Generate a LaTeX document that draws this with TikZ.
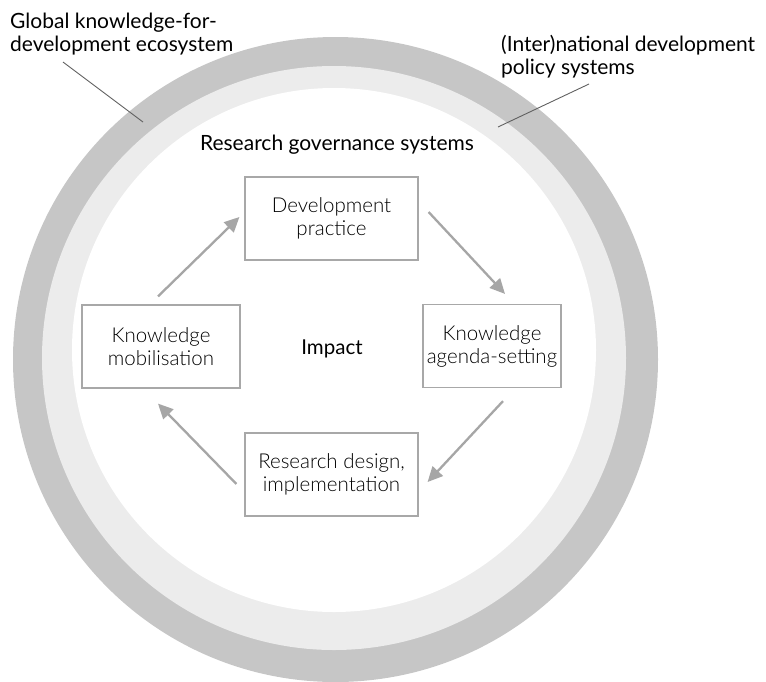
\documentclass[tikz,border=0pt]{standalone}
\usepackage{fontspec}
\setmainfont{Lato}
\newfontfamily\boxfont{Lato}[UprightFont=* Light]
\usetikzlibrary{arrows.meta,calc}
\definecolor{ringdark}{HTML}{C6C6C6}
\definecolor{ringlight}{HTML}{ECECEC}
\definecolor{arrgray}{HTML}{A6A6A6}
\definecolor{boxgray}{HTML}{A8A8A8}
\definecolor{leadergray}{HTML}{606060}
\tikzset{
  stagebox/.style={draw=boxgray, line width=1.2pt, fill=white, minimum width=#1, minimum height=83pt, inner sep=0pt, align=center, font=\boxfont\fontsize{20.5}{23}\selectfont, text=black},
  cyclearrow/.style={draw=arrgray, line width=2.3pt, -{Triangle[length=15pt,width=14pt]}},
  labeltext/.style={inner sep=0pt, align=left, font=\fontsize{21}{23}\selectfont, text=black},
  leader/.style={draw=leadergray, line width=0.9pt}
}
\begin{document}
\begin{tikzpicture}[x=1pt,y=-1pt]
\useasboundingbox (0,0) rectangle (766,681);
% rings
\fill[ringdark] (335.5,359.5) circle[radius=322.5pt];
\fill[ringlight] (334,358) circle[radius=292pt];
\fill[white] (334,350) circle[radius=262pt];
% boxes
\node[stagebox=173pt] (dev) at (331.5,218.5) {Development\\practice};
\node[stagebox=158pt] (mob) at (161,346.5) {Knowledge\\mobilisation};
\node[stagebox=138pt] (agenda) at (492,346) {Knowledge\\agenda-setting};
\node[stagebox=173pt] (res) at (331.5,474.5) {Research design,\\implementation};
\node[labeltext, font=\fontsize{20.5}{23}\selectfont] (impact) at (332,349) {Impact};
% arrows
\draw[cyclearrow] ($(mob.north)+(-3,-8)$) -- ($(dev.west)+(-5,-1.5)$);
\draw[cyclearrow] ($(dev.east)+(10,-6.5)$) -- ($(agenda.north)+(13,-10)$);
\draw[cyclearrow] ($(agenda.south)+(11,13)$) -- ($(res.east)+(9,7.5)$);
\draw[cyclearrow] ($(res.west)+(-8,9.5)$) -- ($(mob.south)+(-3,15)$);
% labels
\node[labeltext, anchor=north west] (global) at (10,13) {Global knowledge-for-\\development ecosystem};
\node[labeltext, anchor=north west] (natl) at (501,35) {(Inter)national development\\policy systems};
\node[labeltext] (gov) at (337,145) {Research governance systems};
% leader lines
\coordinate (globalend) at (143,122);
\coordinate (natlend) at (498,127);
\draw[leader] (63,62) -- (globalend);
\draw[leader] (589,84) -- (natlend);
\end{tikzpicture}
\end{document}
